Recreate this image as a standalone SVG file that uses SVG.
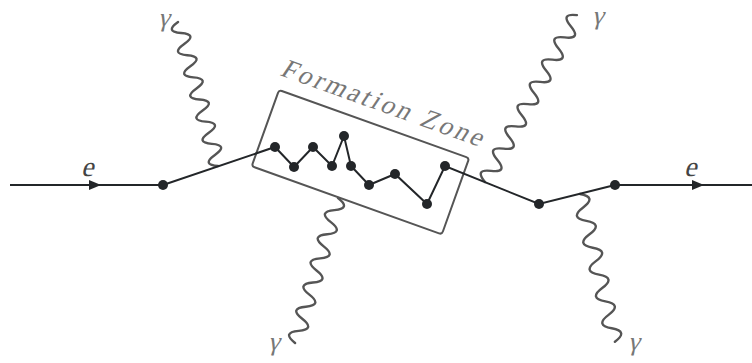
<svg xmlns="http://www.w3.org/2000/svg" width="752" height="363" viewBox="0 0 752 363">
<style>
.e{stroke:#232629;stroke-width:2;fill:none}
.n{fill:#232629}
.ph{stroke:#555;stroke-width:2.4;fill:none;stroke-linecap:round}
.box{stroke:#555;stroke-width:2;fill:none}
.t{font-family:"Liberation Serif",serif;font-style:normal}
</style>
<defs>
<marker id="arr" viewBox="0 0 12 10" refX="11" refY="5" markerWidth="12" markerHeight="10" markerUnits="userSpaceOnUse" orient="auto">
<path d="M0,0 L12,5 L0,10 z" fill="#232629"/>
</marker>
</defs>
<g id="zone">
<rect class="box" x="0" y="0" width="202" height="81" rx="3" transform="translate(279,90) rotate(19.7)"/>
<text class="t" x="0" y="0" font-size="27" fill="#777" textLength="212" lengthAdjust="spacing" transform="translate(279,75) rotate(19.7) skewX(-14)">Formation Zone</text>
</g>
<g id="photons">
<path id="ph1" class="ph" transform="translate(218,166) rotate(-105.5)" d="M0,0 q5.75,-16 11.5,0 t11.5,0 t11.5,0 t11.5,0 t11.5,0 t11.5,0 t11.5,0 t11.5,0 t11.5,0 t11.5,0 t11.5,0 t11.5,0 t11.5,0"/>
<path id="ph2" class="ph" transform="translate(485,182) rotate(-61.15)" d="M0,0 q6.35,-16 12.7,0 t12.7,0 t12.7,0 t12.7,0 t12.7,0 t12.7,0 t12.7,0 t12.7,0 t12.7,0 t12.7,0 t12.7,0 t12.7,0 t12.7,0 t12.7,0 t12.7,0"/>
<path id="ph3" class="ph" transform="translate(338,198) rotate(106.5)" d="M0,0 q6.3,-16 12.6,0 t12.6,0 t12.6,0 t12.6,0 t12.6,0 t12.6,0 t12.6,0 t12.6,0 t12.6,0 t12.6,0 t12.6,0 t12.6,0"/>
<path id="ph4" class="ph" transform="translate(580,194) rotate(76.7)" d="M0,0 q6.9,-16 13.8,0 t13.8,0 t13.8,0 t13.8,0 t13.8,0 t13.8,0 t13.8,0 t13.8,0 t13.8,0 t13.8,0 t13.8,0"/>
</g>
<g id="connectors">
<line class="e" x1="10" y1="185" x2="100" y2="185" marker-end="url(#arr)"/>
<line class="e" x1="95" y1="185" x2="163" y2="185"/>
<polyline class="e" points="163,185 275,147 294,167 313,147 332,166 344,136 351,166 369,185 395,174 427,204 445,166 539,204 615,185"/>
<line class="e" x1="615" y1="185" x2="703" y2="185" marker-end="url(#arr)"/>
<line class="e" x1="698" y1="185" x2="752" y2="185"/>
</g>
<g id="nodes">
<circle id="v1" class="n" cx="163" cy="185" r="5"/>
<circle id="v2" class="n" cx="275" cy="147" r="5"/>
<circle id="v3" class="n" cx="294" cy="167" r="5"/>
<circle id="v4" class="n" cx="313" cy="147" r="5"/>
<circle id="v5" class="n" cx="332" cy="166" r="5"/>
<circle id="v6" class="n" cx="344" cy="136" r="5"/>
<circle id="v7" class="n" cx="351" cy="166" r="5"/>
<circle id="v8" class="n" cx="369" cy="185" r="5"/>
<circle id="v9" class="n" cx="395" cy="174" r="5"/>
<circle id="v10" class="n" cx="427" cy="204" r="5"/>
<circle id="v11" class="n" cx="445" cy="166" r="5"/>
<circle id="v12" class="n" cx="539" cy="204" r="5"/>
<circle id="v13" class="n" cx="615" cy="185" r="5"/>
</g>
<g id="labels">
<text class="t" x="0" y="0" font-size="28" fill="#444" transform="translate(81,176) skewX(-14)">e</text>
<text class="t" x="0" y="0" font-size="28" fill="#444" transform="translate(684,176) skewX(-14)">e</text>
<text class="t" x="0" y="0" font-size="26" fill="#777" transform="translate(158,26) skewX(-14)">γ</text>
<text class="t" x="0" y="0" font-size="26" fill="#777" transform="translate(592,24) skewX(-14)">γ</text>
<text class="t" x="0" y="0" font-size="26" fill="#777" transform="translate(268,350) skewX(-14)">γ</text>
<text class="t" x="0" y="0" font-size="26" fill="#777" transform="translate(628,350) skewX(-14)">γ</text>
</g>
</svg>
